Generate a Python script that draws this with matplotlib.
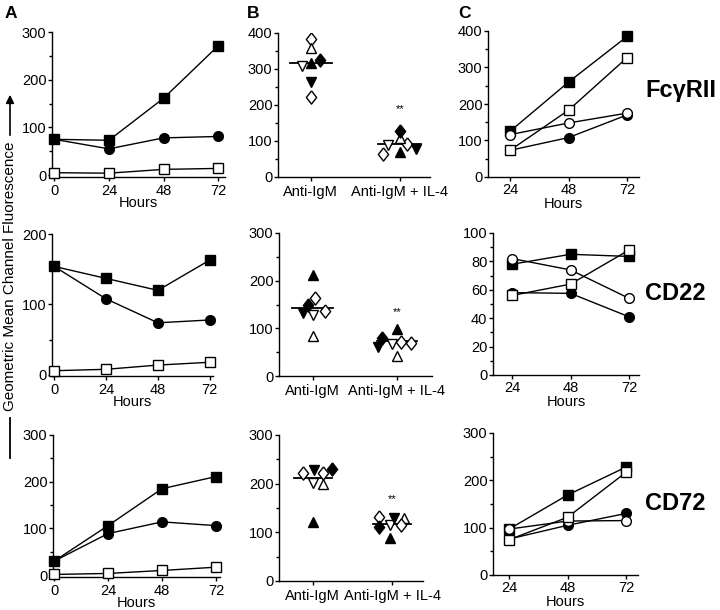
import numpy as np
import matplotlib
matplotlib.use("Agg")
import matplotlib.pyplot as plt
from matplotlib.ticker import MultipleLocator

plt.rcParams['font.family'] = ['Liberation Sans', 'DejaVu Sans']
plt.rcParams['font.size'] = 10.5

# ---------------- data ----------------
hours_a = [0, 24, 48, 72]
hours_c = [24, 48, 72]

# column A: filled square, filled circle, open square
a_fcg_fsq = [75, 73, 161, 271]
a_fcg_fci = [75, 55, 78, 81]
a_fcg_osq = [5, 4, 12, 14]
a_cd22_fsq = [154, 137, 120, 163]
a_cd22_fci = [154, 108, 74, 78]
a_cd22_osq = [6, 8, 14, 18]
a_cd72_fsq = [30, 106, 185, 211]
a_cd72_fci = [30, 89, 114, 106]
a_cd72_osq = [1.5, 3.6, 10, 17]

# column B: donors (open diamond, open up, filled up, filled diamond,
# open down, filled down, open diamond)
groups = ['Anti-IgM', 'Anti-IgM + IL-4']
b_fcg_igm = [383, 358, 318, 325, 309, 264, 223]
b_fcg_il4 = [91, 108, 70, 128, 89, 79, 65]
b_cd22_igm = [163, 84, 211, 149, 129, 133, 136]
b_cd22_il4 = [72, 41, 98, 80, 68, 61, 70]
b_cd72_igm = [222, 199, 122, 231, 201, 228, 222]
b_cd72_il4 = [131, 129, 89, 110, 115, 129, 115]
b_fcg_line = [318, 91]
b_cd22_line = [143, 74]
b_cd72_line = [212, 117]
b_star = [188, 135, 168]

# column C: filled square, open square, open circle, filled circle
c_fcg_fsq = [125, 260, 385]
c_fcg_osq = [73, 183, 327]
c_fcg_oci = [116, 148, 175]
c_fcg_fci = [73, 108, 170]
c_cd22_fsq = [78, 85, 83.5]
c_cd22_osq = [56, 64, 88]
c_cd22_oci = [82, 74, 54]
c_cd22_fci = [58, 57.5, 41]
c_cd72_fsq = [97, 169, 228]
c_cd72_osq = [74.5, 122, 217]
c_cd72_oci = [97, 114, 115]
c_cd72_fci = [76, 105, 130]

markers = ['Fc\u03b3RII', 'CD22', 'CD72']

# ---------------- layout ----------------
W, H = 720, 610
fig = plt.figure(figsize=(W / 100, H / 100), dpi=100)


def box(l, t, r, b):
    return fig.add_axes([l / W, 1 - b / H, (r - l) / W, (b - t) / H])


def style(ax, yticks, minor, xpad=2):
    for s in ['top', 'right']:
        ax.spines[s].set_visible(False)
    for s in ['left', 'bottom']:
        ax.spines[s].set_linewidth(1.0)
    ax.set_yticks(yticks)
    ax.yaxis.set_minor_locator(MultipleLocator(minor))
    ax.tick_params(axis='y', which='major', direction='out', length=3, width=1, pad=1)
    ax.tick_params(axis='y', which='minor', direction='out', length=2, width=1)
    ax.tick_params(axis='x', which='major', direction='out', length=3, width=1, pad=xpad)


ms = 7
lw = 1.0


def line(ax, x, y, mk, filled, z):
    ax.plot(x, y, color='black', lw=lw, marker=mk, ms=ms, mec='black', mew=1.0,
            mfc='black' if filled else 'white', zorder=z, clip_on=False)


# column A
a_boxes = [(52, 32, 225, 177), (52, 234, 213, 376), (53, 435, 220, 577)]
a_xlims = [(-1, 75), (-1, 73.5), (-0.5, 73.8)]
a_data = [(a_fcg_fsq, a_fcg_fci, a_fcg_osq),
          (a_cd22_fsq, a_cd22_fci, a_cd22_osq),
          (a_cd72_fsq, a_cd72_fci, a_cd72_osq)]
a_yt = [[0, 100, 200, 300], [0, 100, 200], [0, 100, 200, 300]]
a_ylim = [(-4, 300), (-1.5, 200), (-4, 300)]
for i in range(3):
    ax = box(*a_boxes[i])
    fsq, fci, osq = a_data[i]
    line(ax, hours_a, osq, 's', False, 3)
    line(ax, hours_a, fci, 'o', True, 4)
    line(ax, hours_a, fsq, 's', True, 5)
    ax.set_xlim(*a_xlims[i])
    ax.set_ylim(*a_ylim[i])
    style(ax, a_yt[i], 50)
    ax.set_xticks(hours_a)
    ax.set_xlabel('Hours', labelpad=-1.5)

# column B
diamond = [(0, 1), (0.78, 0), (0, -1), (-0.78, 0), (0, 1)]
donor_mk = [diamond, '^', '^', diamond, 'v', 'v', diamond]
donor_fill = [False, False, True, True, False, True, False]
donor_ms = [9.5, 7.5, 7.5, 9.5, 7.5, 7.5, 9.5]
b_boxes = [(278, 33, 430, 177), (279, 233, 432, 376), (279, 435, 423, 581)]
b_xlims = [(-0.37, 1.34), (-0.40, 1.42), (-0.425, 1.39)]
b_ylim = [400, 300, 300]
b_vals = [(b_fcg_igm, b_fcg_il4), (b_cd22_igm, b_cd22_il4), (b_cd72_igm, b_cd72_il4)]
b_lines = [b_fcg_line, b_cd22_line, b_cd72_line]
# horizontal spread of the dots within each group
b_jit = [([0, 0, 0, 0.1, -0.1, 0, 0], [0.08, 0, 0, 0, -0.13, 0.18, -0.19]),
         ([0.03, 0, 0, -0.05, 0.01, -0.12, 0.15], [0.05, 0, 0, -0.17, -0.06, -0.22, 0.17]),
         ([-0.12, 0.13, 0, 0.24, 0, 0.01, 0.13], [-0.17, 0.15, -0.03, -0.17, -0.03, 0.02, 0.11])]
for i in range(3):
    ax = box(*b_boxes[i])
    for g in range(2):
        vals = b_vals[i][g]
        jit = b_jit[i][g]
        ax.plot([g - 0.24, g + 0.24], [b_lines[i][g]] * 2, color='black', lw=1.3, zorder=2)
        for k in range(7):
            ax.plot(g + jit[k], vals[k], marker=donor_mk[k], ms=donor_ms[k], ls='none',
                    mec='black', mew=1.0, mfc='black' if donor_fill[k] else 'white', zorder=3)
    ax.text(1, b_star[i], '**', ha='center', va='center', fontsize=8)
    ax.set_xlim(*b_xlims[i])
    ax.set_ylim(0, b_ylim[i])
    style(ax, np.arange(0, b_ylim[i] + 1, 100), 50, xpad=3)
    ax.set_xticks([0, 1])
    ax.set_xticklabels(groups)

# column C
c_boxes = [(488, 31, 639, 177), (493, 233, 639, 375), (493, 433, 638, 575)]
c_xlims = [(15, 76.9), (16.2, 76.1), (17.4, 76.9)]
c_data = [(c_fcg_fsq, c_fcg_osq, c_fcg_oci, c_fcg_fci),
          (c_cd22_fsq, c_cd22_osq, c_cd22_oci, c_cd22_fci),
          (c_cd72_fsq, c_cd72_osq, c_cd72_oci, c_cd72_fci)]
c_ylim = [400, 100, 300]
c_step = [100, 20, 100]
c_minor = [50, 10, 50]
c_lab_y = [91, 294, 504]
for i in range(3):
    ax = box(*c_boxes[i])
    fsq, osq, oci, fci = c_data[i]
    line(ax, hours_c, fci, 'o', True, 3)
    line(ax, hours_c, fsq, 's', True, 4)
    line(ax, hours_c, oci, 'o', False, 5)
    line(ax, hours_c, osq, 's', False, 6)
    ax.set_xlim(*c_xlims[i])
    ax.set_ylim(0, c_ylim[i])
    style(ax, np.arange(0, c_ylim[i] + 1, c_step[i]), c_minor[i], xpad=1.5)
    ax.set_xticks(hours_c)
    ax.set_xlabel('Hours', labelpad=0)
    fig.text(645 / W, 1 - c_lab_y[i] / H, markers[i], fontsize=17, fontweight='bold',
             ha='left', va='center')

# panel letters
for lab, x in zip(['A', 'B', 'C'], [5, 247, 458]):
    fig.text(x / W, 1 - 13 / H, lab, fontsize=12.5, fontweight='bold', ha='left', va='center')

# shared y label with arrow
fig.text(10 / W, 1 - 276 / H, 'Geometric Mean Channel Fluorescence', rotation=90,
         ha='center', va='center', fontsize=11)
fig.add_artist(matplotlib.patches.FancyArrowPatch((10 / W, 1 - 138 / H), (10 / W, 1 - 92 / H),
               transform=fig.transFigure, arrowstyle='-|>', mutation_scale=12,
               color='black', lw=1.2))
fig.add_artist(matplotlib.lines.Line2D([10 / W, 10 / W], [1 - 418 / H, 1 - 458 / H],
               transform=fig.transFigure, color='black', lw=1.3))

fig.savefig('out.png', dpi=100)
